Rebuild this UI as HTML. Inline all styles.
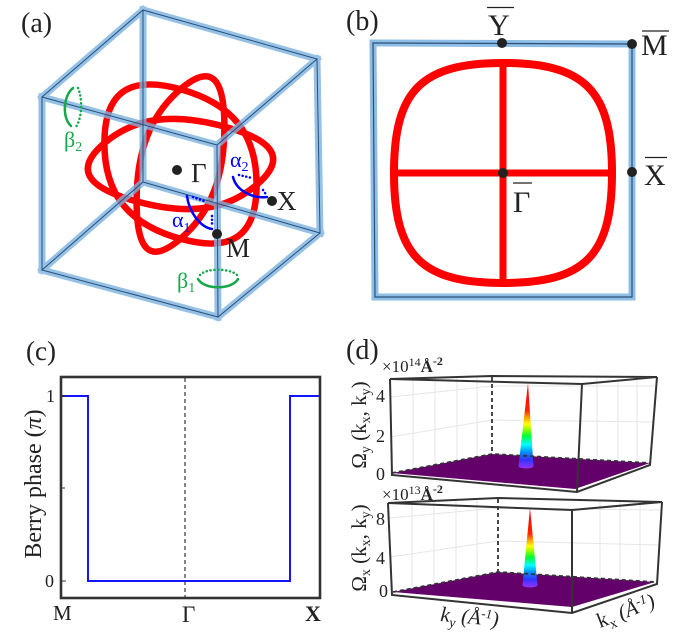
<!DOCTYPE html>
<html><head><meta charset="utf-8"><style>
html,body{margin:0;padding:0;background:#fff;}
svg{display:block;}
text{font-family:"Liberation Serif","DejaVu Serif",serif;fill:#222;}
</style></head><body>
<svg width="694" height="643" viewBox="0 0 694 643" xmlns="http://www.w3.org/2000/svg">
<defs>
<linearGradient id="rb" x1="0" y1="1" x2="0" y2="0">
<stop offset="0" stop-color="#9933ff"/>
<stop offset="0.1" stop-color="#3333ff"/>
<stop offset="0.2" stop-color="#0099ff"/>
<stop offset="0.28" stop-color="#00ffff"/>
<stop offset="0.38" stop-color="#00ff33"/>
<stop offset="0.46" stop-color="#99ff00"/>
<stop offset="0.52" stop-color="#ffff00"/>
<stop offset="0.6" stop-color="#ff9900"/>
<stop offset="0.68" stop-color="#ff2200"/>
<stop offset="1" stop-color="#ff0000"/>
</linearGradient>
</defs>

<!-- ===== Panel (a) ===== -->
<text x="21" y="32" font-size="28">(a)</text>
<g fill="none" stroke="#ff0000" stroke-width="6.5">
<path vector-effect="non-scaling-stroke" transform="matrix(76.1,20.9,43.9,-37.4,180.5,164)" d="M1,0 C1,0.68 0.68,1 0,1 C-0.68,1 -1,0.68 -1,0 C-1,-0.68 -0.68,-1 0,-1 C0.68,-1 1,-0.68 1,0 Z"/>
<path vector-effect="non-scaling-stroke" transform="matrix(76.1,20.9,0,74.8,180.5,164)" d="M1,0 C1,0.68 0.68,1 0,1 C-0.68,1 -1,0.68 -1,0 C-1,-0.68 -0.68,-1 0,-1 C0.68,-1 1,-0.68 1,0 Z"/>
<path vector-effect="non-scaling-stroke" transform="matrix(43.9,-37.4,0,74.8,180.5,164)" d="M1,0 C1,0.68 0.68,1 0,1 C-0.68,1 -1,0.68 -1,0 C-1,-0.68 -0.68,-1 0,-1 C0.68,-1 1,-0.68 1,0 Z"/>
</g>
<g fill="none" stroke-linecap="square">
<path stroke="#7ab2e0" stroke-opacity="0.8" stroke-width="7" d="M143,10 L317,59 M143,10 L42,97 M42,97 L217,145 M217,145 L317,59 M143,182 L320,233 M143,182 L42,270 M42,270 L218,317 M218,317 L320,233 M143,10 L143,182 M317,59 L320,233 M42,97 L42,270 M217,145 L218,317"/>
<path stroke="#2a4f7a" stroke-width="1" d="M143,10 L317,59 M143,10 L42,97 M42,97 L217,145 M217,145 L317,59 M143,182 L320,233 M143,182 L42,270 M42,270 L218,317 M218,317 L320,233 M143,10 L143,182 M317,59 L320,233 M42,97 L42,270 M217,145 L218,317"/>
</g>
<!-- small loops -->
<g fill="none" stroke-width="2.5" stroke-linecap="round">
<path stroke="#0000ff" d="M233,177 C236,190 252,199 267,197"/>
<path stroke="#0000ff" stroke-dasharray="0.1 3.6" d="M239,175 L252,178 M263,190 L267,196"/>
<path stroke="#0000ff" d="M187,196 C189,212 200,227 212,229"/>
<path stroke="#0000ff" stroke-dasharray="0.1 3.6" d="M193,197 L204,201 M212,216 L212,226"/>
<path stroke="#14a84a" d="M73,88 C63,96 62,118 71,126"/>
<path stroke="#14a84a" stroke-dasharray="0.1 3.8" d="M78,88 C82,97 83,116 76,127"/>
<path stroke="#14a84a" d="M198,279 C204,290 232,290 238,279"/>
<path stroke="#14a84a" stroke-dasharray="0.1 3.8" d="M200,275 C206,268 230,268 237,275"/>
</g>
<text x="64" y="147" font-size="22" style="fill:#14a84a">β<tspan font-size="14" dy="4">2</tspan></text>
<text x="177" y="288" font-size="22" style="fill:#14a84a">β<tspan font-size="14" dy="4">1</tspan></text>
<text x="230" y="167" font-size="22" style="fill:#0000ff">α<tspan font-size="14" dy="4">2</tspan></text>
<text x="172" y="227" font-size="22" style="fill:#0000ff">α<tspan font-size="14" dy="5">1</tspan></text>
<g fill="#222">
<circle cx="177" cy="170" r="5"/>
<circle cx="272" cy="201" r="5"/>
<circle cx="217" cy="234" r="5"/>
</g>
<text x="191" y="182" font-size="27">Γ</text>
<text x="277" y="210" font-size="27">X</text>
<text x="226" y="257" font-size="27">M</text>

<!-- ===== Panel (b) ===== -->
<text x="346" y="30" font-size="28">(b)</text>
<g fill="none" stroke="#ff0000" stroke-width="8">
<path vector-effect="non-scaling-stroke" transform="matrix(109,0,0,110,503,173)" d="M1,0 C1,0.75 0.75,1 0,1 C-0.75,1 -1,0.75 -1,0 C-1,-0.75 -0.75,-1 0,-1 C0.75,-1 1,-0.75 1,0 Z"/>
<path stroke-width="7" d="M503,64 L503,282 M396,173 L611,173"/>
</g>
<g fill="none">
<path stroke="#7ab2e0" stroke-opacity="0.85" stroke-width="7" stroke-linejoin="miter" d="M373,43 L632,44 L632,297 L375,297 Z"/>
<path stroke="#2a4f7a" stroke-width="1.2" d="M373,43 L632,44 L632,297 L375,297 Z"/>
</g>
<g fill="#222">
<circle cx="502" cy="43" r="5"/>
<circle cx="632" cy="44" r="5"/>
<circle cx="632" cy="172" r="5"/>
<circle cx="503" cy="173" r="5"/>
</g>
<g stroke="#222" stroke-width="1.3">
<line x1="487" y1="7.5" x2="514" y2="7.5"/>
<line x1="642" y1="31" x2="669" y2="31"/>
<line x1="645" y1="157.5" x2="667" y2="157.5"/>
<line x1="513" y1="183" x2="532" y2="183"/>
</g>
<text x="488" y="35" font-size="30">Y</text>
<text x="641" y="55" font-size="30">M</text>
<text x="644" y="185" font-size="30">X</text>
<text x="513" y="212" font-size="30">Γ</text>

<!-- ===== Panel (c) ===== -->
<text x="26" y="360" font-size="27">(c)</text>
<line x1="185" y1="378" x2="185" y2="597" stroke="#333" stroke-width="1.2" stroke-dasharray="4 3"/>
<polyline fill="none" stroke="#1414ff" stroke-width="2" points="62,396 88,396 88,581 290,581 290,396 319,396"/>
<rect x="61" y="377" width="259" height="221" fill="none" stroke="#333" stroke-width="2.6"/>
<g stroke="#333" stroke-width="1">
<line x1="62" y1="396" x2="66" y2="396"/>
<line x1="62" y1="488" x2="65" y2="488"/>
<line x1="62" y1="581" x2="66" y2="581"/>
</g>
<text x="46" y="402" font-size="18">1</text>
<text x="45" y="587" font-size="18">0</text>
<text x="53" y="620" font-size="21">M</text>
<text x="182" y="622" font-size="23">Γ</text>
<text x="305" y="621" font-size="22" font-weight="bold">X</text>
<text transform="translate(41,484) rotate(-90)" text-anchor="middle" font-size="24">Berry phase (<tspan font-style="italic">π</tspan>)</text>

<!-- ===== Panel (d) ===== -->
<text x="346" y="359" font-size="28">(d)</text>
<!-- top box -->
<g stroke="#e6e6e6" stroke-width="1" fill="none">
<path d="M413,378 L413,469 M435,377 L435,465 M457,377 L457,461 M477,376 L477,457 M597,377 L597,460 M618,377 L618,461 M637,377 L637,462 M391,437 L492,420 L653,422 M391,397 L492,386 L655,386"/>
</g>
<polygon points="392,473 492,454 650,463 575,489" fill="#64006a"/>
<path d="M528,383 L533.5,466 A7.5,2.5 0 0 1 518.5,466 Z" fill="url(#rb)"/>
<g fill="none" stroke="#333" stroke-width="1.8" stroke-dasharray="4 3">
<path d="M492,377 L492,454 M392,473 L492,454 L650,463"/>
</g>
<g fill="none" stroke="#333" stroke-width="2">
<path d="M390,379 L492,376 L657,377 L582,384 Z"/>
<path d="M390,379 L392,475 L577,492 L650,465 L657,377 M582,384 L577,492"/>
</g>
<text x="376" y="402" font-size="18">4</text>
<text x="376" y="442" font-size="18">2</text>
<text x="376" y="480" font-size="18">0</text>
<text x="382" y="372" font-size="17">×10<tspan font-size="12" dy="-6">14</tspan><tspan dy="6" font-weight="bold">Å</tspan><tspan font-size="12" dy="-7" font-weight="bold">-2</tspan></text>
<text transform="translate(366,425) rotate(-90)" text-anchor="middle" font-size="21">Ω<tspan font-size="14" dy="4">y</tspan><tspan dy="-4"> (k</tspan><tspan font-size="14" dy="4">x</tspan><tspan dy="-4">, k</tspan><tspan font-size="14" dy="4">y</tspan><tspan dy="-4">)</tspan></text>

<!-- bottom box -->
<g stroke="#e6e6e6" stroke-width="1" fill="none">
<path d="M412,502 L412,588 M434,501 L434,584 M456,500 L456,580 M477,499 L477,576 M600,500 L600,578 M620,501 L620,579 M640,501 L640,580 M390,557 L498,541 L658,545 M390,518 L498,508 L660,510"/>
</g>
<polygon points="393,592 498,572 655,582 572,607" fill="#64006a"/>
<path d="M530,508 L537.5,585 A7.5,2.5 0 0 1 522.5,585 Z" fill="url(#rb)"/>
<g fill="none" stroke="#333" stroke-width="1.8" stroke-dasharray="4 3">
<path d="M498,499 L498,572 M393,592 L498,572 L655,582"/>
</g>
<g fill="none" stroke="#333" stroke-width="2">
<path d="M388,503 L498,498 L662,502 L572,510 Z"/>
<path d="M388,503 L392,595 L572,613 L657,584 L662,502 M572,510 L572,613"/>
</g>
<text x="376" y="525" font-size="18">8</text>
<text x="376" y="564" font-size="18">4</text>
<text x="379" y="597" font-size="18">0</text>
<text x="382" y="500" font-size="17">×10<tspan font-size="12" dy="-6">13</tspan><tspan dy="6" font-weight="bold">Å</tspan><tspan font-size="12" dy="-7" font-weight="bold">-2</tspan></text>
<text transform="translate(366,548) rotate(-90)" text-anchor="middle" font-size="21">Ω<tspan font-size="14" dy="4">x</tspan><tspan dy="-4"> (k</tspan><tspan font-size="14" dy="4">x</tspan><tspan dy="-4">, k</tspan><tspan font-size="14" dy="4">y</tspan><tspan dy="-4">)</tspan></text>
<text transform="translate(440,621) rotate(5)" font-size="21" font-style="italic">k<tspan font-size="14" dy="5">y</tspan><tspan dy="-5"> (Å</tspan><tspan font-size="13" dy="-7">-1</tspan><tspan dy="7">)</tspan></text>
<text transform="translate(600,628) rotate(-21)" font-size="21">k<tspan font-size="14" dy="5">x</tspan><tspan dy="-5" font-style="italic"> (Å</tspan><tspan font-size="13" dy="-7" font-style="italic">-1</tspan><tspan dy="7" font-style="italic">)</tspan></text>
</svg>
</body></html>
